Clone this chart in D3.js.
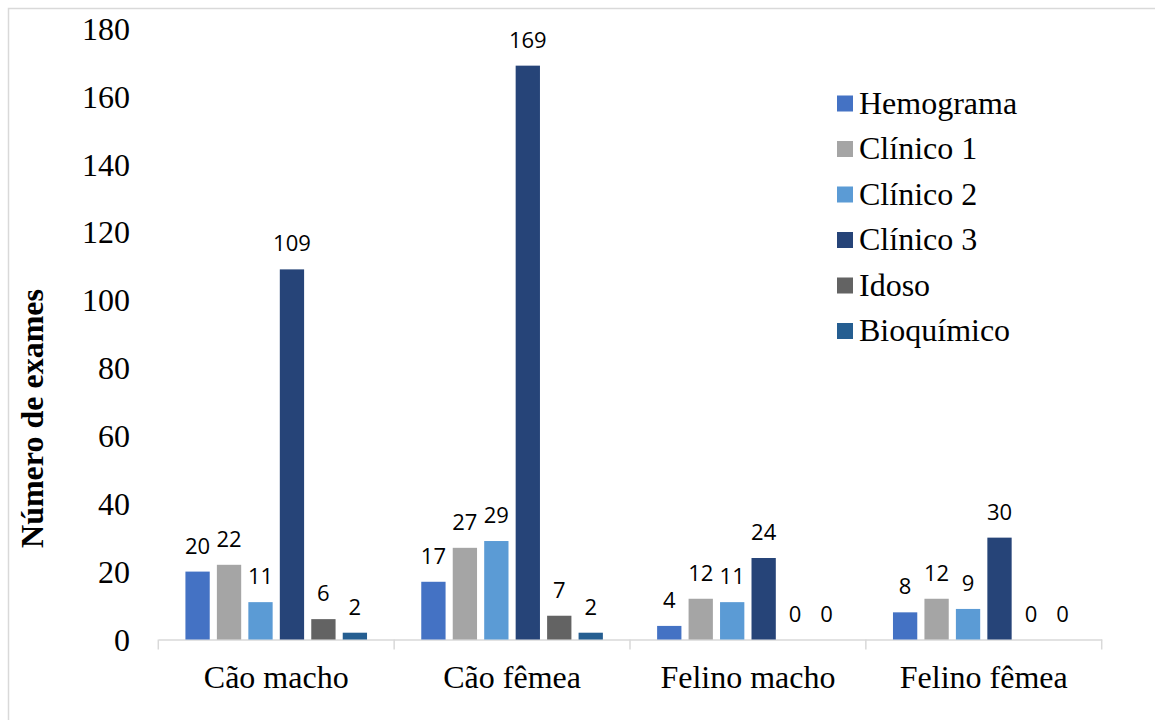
<!DOCTYPE html>
<html>
<head>
<meta charset="utf-8">
<script src="https://cdn.jsdelivr.net/npm/d3@7"></script>
<style>
  html, body { margin: 0; padding: 0; background: #fff; }
  svg { display: block; }
</style>
</head>
<body>
<svg id="chart" width="1155" height="720"></svg>
<script>
// Exam counts per animal group
const categories = ["Cão macho", "Cão fêmea", "Felino macho", "Felino fêmea"];
const seriesNames = ["Hemograma", "Clínico 1", "Clínico 2", "Clínico 3", "Idoso", "Bioquímico"];
const hemograma  = [20, 17, 4, 8];
const clinico1   = [22, 27, 12, 12];
const clinico2   = [11, 29, 11, 9];
const clinico3   = [109, 169, 24, 30];
const idoso      = [6, 7, 0, 0];
const bioquimico = [2, 2, 0, 0];
const yTicks = [0, 20, 40, 60, 80, 100, 120, 140, 160, 180];
const colors = ["#4472C4", "#A5A5A5", "#5B9BD5", "#264478", "#636363", "#255E91"];

const seriesValues = [hemograma, clinico1, clinico2, clinico3, idoso, bioquimico];

const svg = d3.select("#chart");
const serif = "'Liberation Serif', 'Times New Roman', serif";
const sans = "'Open Sans', 'Liberation Sans', sans-serif";

// frame
svg.append("rect")
  .attr("x", 8.5).attr("y", 8.5)
  .attr("width", 1200).attr("height", 800)
  .attr("fill", "none").attr("stroke", "#d9d9d9").attr("stroke-width", 1.5);

const plot = { left: 158.3, right: 1101.7, top: 28.3, bottom: 639.5 };

const x = d3.scaleBand().domain(categories).range([plot.left, plot.right]).padding(0);
const xs = d3.scaleBand().domain(seriesNames).range([0, x.bandwidth()])
  .paddingInner(0.2276).paddingOuter(0.862);
const y = d3.scaleLinear().domain([0, 180]).range([plot.bottom, plot.top]);

// y tick labels (no axis line)
const yAxis = d3.axisLeft(y).tickValues(yTicks).tickSize(0).tickPadding(0);
const gy = svg.append("g").attr("transform", `translate(130,0)`).call(yAxis);
gy.select(".domain").remove();
gy.selectAll("text")
  .attr("font-family", serif).attr("font-size", 32).attr("fill", "#000")
  .attr("dy", "0.34em");

// x axis
const xAxis = d3.axisBottom(x).tickSize(0).tickFormat(() => "");
const gx = svg.append("g").attr("transform", `translate(0,${plot.bottom})`).call(xAxis);
gx.select(".domain").attr("stroke", "#d9d9d9").attr("stroke-width", 1.5);
// category boundary ticks
const bounds = categories.map(c => x(c)).concat([plot.right]);
svg.append("g").selectAll("line").data(bounds).join("line")
  .attr("x1", d => d).attr("x2", d => d)
  .attr("y1", plot.bottom).attr("y2", plot.bottom + 10)
  .attr("stroke", "#d9d9d9").attr("stroke-width", 1.5);

svg.append("g").selectAll("text").data(categories).join("text")
  .attr("x", d => x(d) + x.bandwidth() / 2)
  .attr("y", 688)
  .attr("text-anchor", "middle")
  .attr("font-family", serif).attr("font-size", 32).attr("fill", "#000")
  .text(d => d);

// bars
const groups = svg.append("g").selectAll("g").data(seriesNames).join("g")
  .attr("fill", (d, i) => colors[i]);

groups.selectAll("rect")
  .data((s, i) => categories.map((c, j) => ({ c, s, v: seriesValues[i][j] })))
  .join("rect")
  .attr("x", d => x(d.c) + xs(d.s))
  .attr("width", xs.bandwidth())
  .attr("y", d => y(d.v))
  .attr("height", d => y(0) - y(d.v));

// value labels
groups.selectAll("text")
  .data((s, i) => categories.map((c, j) => ({ c, s, v: seriesValues[i][j] })))
  .join("text")
  .attr("x", d => x(d.c) + xs(d.s) + xs.bandwidth() / 2)
  .attr("y", d => y(d.v) - 18)
  .attr("text-anchor", "middle")
  .attr("font-family", sans).attr("font-size", 22).attr("fill", "#000")
  .text(d => d.v);

// y title
svg.append("text")
  .attr("transform", "translate(43,418.5) rotate(-90)")
  .attr("text-anchor", "middle")
  .attr("font-family", serif).attr("font-size", 32).attr("font-weight", "bold")
  .attr("fill", "#000")
  .text("Número de exames");

// legend
const legend = svg.append("g").selectAll("g").data(seriesNames).join("g")
  .attr("transform", (d, i) => `translate(837,${103.5 + i * 45.5})`);
legend.append("rect")
  .attr("x", 0).attr("y", -8).attr("width", 16).attr("height", 16)
  .attr("fill", (d, i) => colors[i]);
legend.append("text")
  .attr("x", 22).attr("y", 10)
  .attr("font-family", serif).attr("font-size", 32).attr("fill", "#000")
  .text(d => d);
</script>
</body>
</html>
